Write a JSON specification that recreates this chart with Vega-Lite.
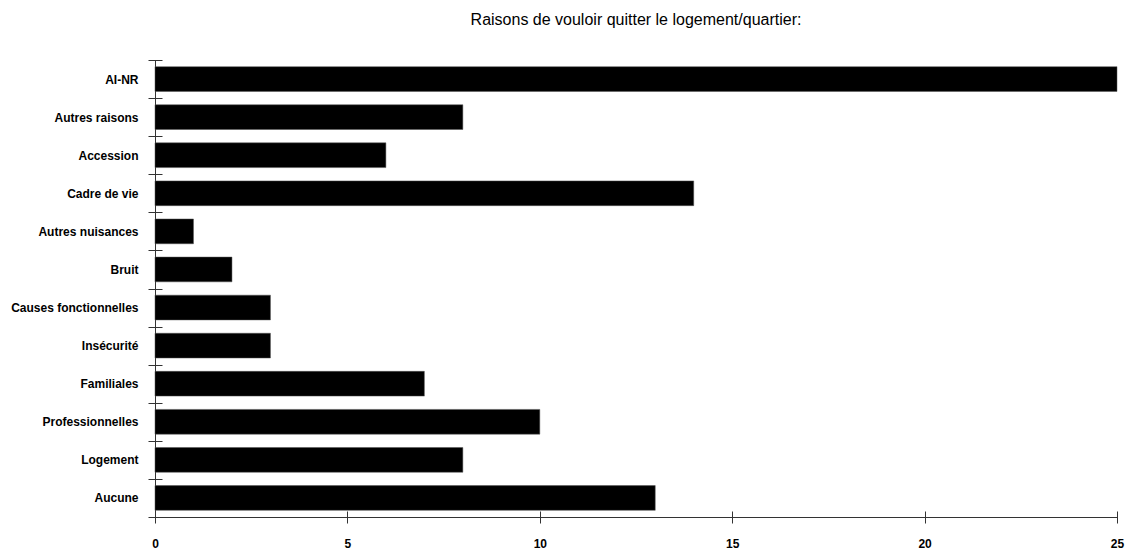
{
  "$schema": "https://vega.github.io/schema/vega-lite/v6.json",
  "autosize": "none",
  "padding": {"left": 155, "top": 60, "right": 10, "bottom": 32},
  "width": 962,
  "height": 457,
  "background": "white",
  "title": {
    "text": "Raisons de vouloir quitter le logement/quartier:",
    "font": "Liberation Sans",
    "fontSize": 16,
    "fontWeight": "normal",
    "color": "#000000",
    "anchor": "middle",
    "offset": 26
  },
  "config": {
    "view": {"stroke": null},
    "axis": {"domainColor": "#333333", "tickColor": "#333333", "grid": false}
  },
  "data": {
    "values": [
      {"raison": "AI-NR", "n": 25},
      {"raison": "Autres raisons", "n": 8},
      {"raison": "Accession", "n": 6},
      {"raison": "Cadre de vie", "n": 14},
      {"raison": "Autres nuisances", "n": 1},
      {"raison": "Bruit", "n": 2},
      {"raison": "Causes fonctionnelles", "n": 3},
      {"raison": "Insécurité", "n": 3},
      {"raison": "Familiales", "n": 7},
      {"raison": "Professionnelles", "n": 10},
      {"raison": "Logement", "n": 8},
      {"raison": "Aucune", "n": 13}
    ]
  },
  "resolve": {"axis": {"x": "independent", "y": "independent"}},
  "layer": [
    {
      "mark": {"type": "bar", "color": "#000000", "stroke": "#555555", "strokeWidth": 0.5, "height": {"band": 0.65}},
      "encoding": {
        "y": {
          "field": "raison", "type": "nominal", "sort": null,
          "scale": {"paddingInner": 0, "paddingOuter": 0},
          "axis": {
            "title": null, "orient": "left", "domain": false,
            "tickBand": "extent", "tickSize": 14, "offset": -7,
            "labelPadding": 10, "labelFont": "Liberation Sans",
            "labelFontSize": 12, "labelFontWeight": "bold", "labelColor": "#000000"
          }
        },
        "x": {
          "field": "n", "type": "quantitative",
          "scale": {"domain": [0, 25], "nice": false},
          "axis": {
            "title": null, "orient": "bottom", "domain": false,
            "values": [0, 5, 10, 15, 20, 25],
            "tickSize": 12, "offset": -6, "labelPadding": 15,
            "labelFlush": false, "labelOverlap": false,
            "labelFont": "Liberation Sans", "labelFontSize": 12,
            "labelFontWeight": "bold", "labelColor": "#000000"
          }
        }
      }
    },
    {
      "mark": {"type": "bar", "opacity": 0},
      "encoding": {
        "y": {
          "field": "raison", "type": "nominal", "sort": null,
          "axis": {"title": null, "orient": "left", "domain": true, "ticks": false, "labels": false}
        },
        "x": {
          "field": "n", "type": "quantitative",
          "axis": {"title": null, "orient": "bottom", "domain": true, "ticks": false, "labels": false}
        }
      }
    }
  ]
}
